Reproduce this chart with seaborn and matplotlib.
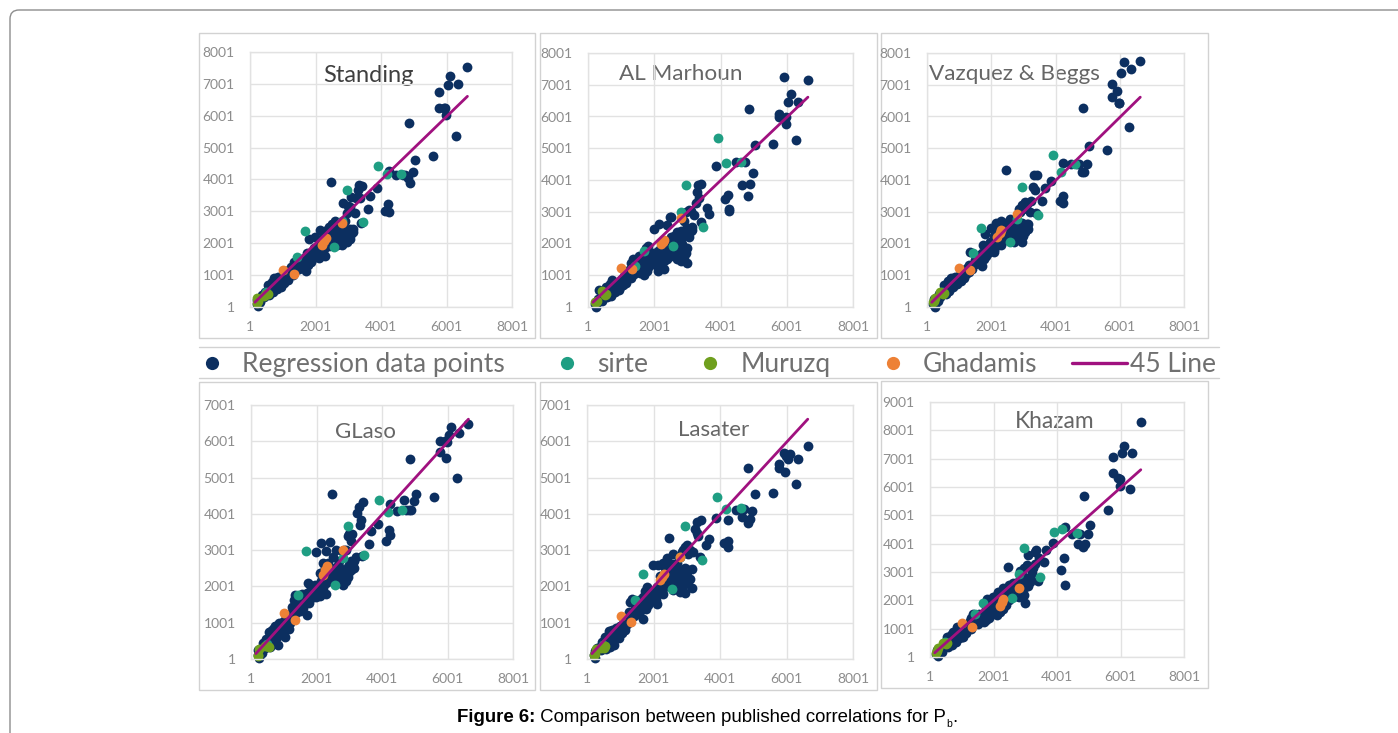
import matplotlib
matplotlib.use('Agg')
import matplotlib.pyplot as plt
from matplotlib.lines import Line2D
from matplotlib.patches import FancyBboxPatch, Rectangle
import seaborn as sns

reg_x = [200,230,250,300,340,380,420,460,500,540,
         580,620,660,700,740,780,820,860,900,950,
         1000,1050,1100,1150,1200,1250,1300,1300,1350,1400,
         1450,1500,1550,1600,1650,1700,1700,1750,1800,1800,
         1850,1900,1950,2000,1980,2050,2100,2100,2150,2200,
         2200,2250,2300,2300,2350,2400,2400,2450,2500,2500,
         2550,2600,2600,2650,2700,2700,2750,2800,2800,2850,
         2900,2900,2950,3000,3000,3050,3100,3100,3150,3200,
         3250,3300,3320,3400,3350,3420,3590,3660,3870,2470,
         4130,4230,4250,4250,4470,4660,4730,4830,4890,4970,
         5040,4850,5600,6290,6640,6120,6050,6350,5775,5775,
         5925,5970,5980,
         600,680,760,840,920,1000,1060,1130,1200,1280,
         1350,1420,1500,1560,1620,1700,1780,1850,1920,2000,
         2080,2150,2250,2300,2350,2450,2500,2550,2650,2700,
         2750,2800,2850,2900,2950,3000,3050,3150,2950,3050]
reg_standing = [110,220,20,170,300,380,310,470,430,700,
                390,560,790,480,900,660,560,940,760,620,
                960,760,1130,840,960,1260,1020,1180,1410,1170,
                1320,1200,1450,1300,1550,1120,1400,1700,1450,2150,
                1620,1500,1850,1600,2200,1750,1950,1530,2420,1680,
                2050,1820,2320,1600,2100,1900,2500,2200,2000,2600,
                2350,2100,2710,1950,2250,2000,2100,2400,1950,3260,
                2250,2700,2050,2350,3160,2150,2300,3440,2450,2950,
                3420,3680,3840,2640,3420,3810,3085,3470,3720,3910,
                3000,3240,2980,4260,4150,4150,4150,4050,3890,4225,
                4620,5770,4725,5355,7520,7240,6965,6985,6735,6245,
                6245,6245,6030,
                640,560,820,700,860,780,1040,990,1120,1120,
                1290,1300,1380,1280,1420,1560,1320,1420,1720,1820,
                1620,1800,2250,1950,2420,1950,2300,2050,2300,2550,
                2280,2150,2300,2050,2420,2200,2450,2350,2950,3150]
reg_marhoun = [80,150,10,250,540,280,200,380,460,620,
               310,540,720,360,860,560,470,700,650,540,
               850,690,990,770,1060,1180,900,1390,1500,1040,
               1250,1130,1620,1200,1500,1010,1320,1850,1250,1930,
               1500,1380,1700,1400,2450,1550,1750,1140,2600,1450,
               1900,1650,2060,1190,1700,1500,2590,1950,1600,2850,
               2100,1740,2250,1950,2250,1500,1850,2400,1455,2000,
               2250,2700,1700,2480,1380,2200,2400,3020,2520,2900,
               3270,3630,3840,2690,3420,3875,3110,2930,4450,2850,
               3415,3530,3040,3100,4575,3840,4575,3510,3875,4220,
               5100,6250,5150,5255,7160,6720,6460,6460,6095,5970,
               7255,5750,5980,
               500,430,640,560,600,650,900,840,920,1000,
               1160,1120,1340,1080,1300,1650,1130,1280,1620,1600,
               1300,1600,1950,1450,1850,1680,2200,1850,2150,2350,
               2000,1750,2300,1590,2450,1850,2350,2430,3000,3050]
reg_vazquez = [90,240,10,280,200,400,330,440,520,700,
               420,610,820,500,910,700,620,960,790,710,
               990,820,1160,900,1040,1240,1110,1320,1730,1200,
               1370,1340,1560,1420,1640,1280,1520,1960,1610,2290,
               1750,1700,2040,1820,2500,1900,2250,1720,2640,1950,
               2400,2120,2700,1960,2360,2200,2650,2420,2280,2100,
               2560,2200,2780,2400,2050,2450,2320,2600,2130,3100,
               2300,3000,2050,2500,3100,2350,2600,3250,2600,3000,
               3330,3770,4160,2950,3700,4160,3340,3740,3980,4315,
               3350,3500,3270,4545,4520,4520,4510,4265,4265,4510,
               5080,6275,4955,5655,7760,7720,7375,7490,7040,6630,
               6800,6430,6430,
               680,600,830,760,900,810,1060,1030,1130,1200,
               1290,1330,1480,1380,1530,1700,1500,1620,1850,1980,
               1800,2050,2500,2180,2580,2350,2500,2150,2550,2680,
               2200,2420,2450,2180,2650,2250,2550,2450,3200,3300]
reg_glaso = [100,260,20,290,180,430,300,560,480,740,
             340,680,840,450,900,620,390,1000,760,720,
             1040,610,1180,830,1000,1440,1170,1640,1770,1290,
             1590,1330,1780,1420,1650,1200,1590,2100,1660,2050,
             1840,1750,2040,1700,2960,1880,2360,1740,3210,1960,
             2650,2120,2990,1800,2350,2150,3220,2520,2200,2800,
             2460,2280,3010,2600,2250,2700,2400,2950,2050,3000,
             2350,3000,2250,2600,3450,2450,2540,3450,2700,2820,
             4020,4200,3700,2850,3835,4340,3165,3530,3715,4560,
             3240,3560,3420,4275,4080,4385,4110,4110,4110,4365,
             4550,5515,4460,4980,6470,6385,6175,6220,6010,5715,
             6010,5530,5990,
             760,560,920,700,1000,800,1120,1030,1240,1300,
             1450,1500,1700,1360,1620,1820,1550,1700,1960,2000,
             1760,2150,2500,2100,2650,2300,2450,2150,2450,2550,
             2200,2250,2450,2150,2550,2400,2700,2500,3400,3250]
reg_lasater = [110,230,30,300,280,340,240,470,400,620,
               290,540,770,330,800,500,400,850,660,590,
               900,720,1080,790,960,1300,1010,1580,1650,1190,
               1390,1250,1640,1320,1580,1110,1450,1880,1560,1980,
               1680,1600,1850,1720,2600,1700,1980,1530,2600,1820,
               2300,2060,2650,1780,2500,2000,2780,2350,2130,2400,
               2620,1900,2900,2230,1950,2500,2100,2800,1850,2950,
               2150,3000,1830,2400,3150,2150,2200,3000,2470,2950,
               3590,3470,3770,2800,3400,3835,3150,3300,3880,3330,
               3190,3260,3100,3835,4110,3910,4140,3760,3855,4090,
               4540,5255,4570,4815,5880,5640,5515,5515,5385,5255,
               5690,5165,5600,
               520,450,720,560,780,680,940,880,1100,1120,
               1300,1320,1480,1260,1480,1700,1380,1500,1780,1850,
               1620,1920,2200,1960,2150,2150,2500,2200,2450,2650,
               2300,2000,2350,2000,2500,2100,2450,1950,3100,2900]
reg_khazam = [90,260,20,210,310,190,380,420,500,700,
              350,590,790,430,900,610,530,1060,680,770,
              950,690,1080,860,1040,1270,980,1360,1520,1190,
              1340,1180,1510,1300,1470,1250,1380,1700,1410,2040,
              1520,1560,1950,1640,2120,1820,2200,1470,2280,1580,
              2050,1760,2420,1680,2180,1850,2380,2250,2000,2550,
              2430,2150,2620,2320,2500,2300,2150,2680,2120,3050,
              2450,2900,2180,2750,1890,2580,2500,3600,2820,2950,
              3150,3300,3715,2700,3775,3500,3360,3775,4035,3185,
              3080,3500,2535,4575,4330,3975,4330,3890,3975,4330,
              4660,5685,5190,5920,8280,7455,7195,7195,7075,6490,
              6335,6040,6300,
              650,500,760,720,860,720,960,960,1130,1150,
              1250,1380,1400,1240,1400,1560,1300,1370,1700,1800,
              1600,1900,2150,1900,2300,2100,2350,2150,2500,2600,
              2350,2280,2500,2300,2650,2480,2750,2650,3150,3250]

sirte_x = [3920,4170,4620,2950,3460,2570,1680,1430,2810,480]
sirte_standing = [4410,4180,4170,3680,2655,1870,2370,1570,2700,460]
sirte_marhoun = [5330,4540,4575,3840,2520,1910,1770,1280,3000,430]
sirte_vazquez = [4785,4260,4490,3770,2900,2060,2480,1700,2760,480]
sirte_glaso = [4390,4060,4110,3680,2870,2030,2990,1770,2780,420]
sirte_lasater = [4470,4130,4170,3680,2740,1930,2340,1630,2810,380]
sirte_khazam = [4425,4520,4365,3845,2810,2090,1920,1530,2925,520]

muruzq_x = [200,230,260,500,540,420]
muruzq_standing = [130,290,180,420,400,350]
muruzq_marhoun = [150,150,200,380,420,500]
muruzq_vazquez = [160,200,300,420,440,460]
muruzq_glaso = [70,100,280,350,320,370]
muruzq_lasater = [100,130,280,300,350,300]
muruzq_khazam = [130,200,310,470,480,500]

ghadamis_x = [1010,1330,2190,2260,2310,2810]
ghadamis_standing = [1170,1025,1955,2060,2165,2635]
ghadamis_marhoun = [1245,1190,1990,2060,2115,2795]
ghadamis_vazquez = [1245,1160,2220,2320,2430,2930]
ghadamis_glaso = [1265,1085,2320,2450,2570,3010]
ghadamis_lasater = [1190,1020,2180,2270,2350,2825]
ghadamis_khazam = [1215,1060,1805,1945,2065,2420]

line_x = [150,6640]
line_y = [150,6610]

x_ticks = [1,2001,4001,6001,8001]

NAVY = '#0c2f60'
SIRTE = '#1f9e83'
MURUZQ = '#6f9f1e'
GHADAMIS = '#ed8136'
LINE = '#a0117f'
GRID = '#e2e2e2'
FRAME = '#d2d2d2'
FONT = 'Lato'
MARK = 50

W, H = 1398, 733

sns.set_theme(style='white')
plt.rcParams['font.family'] = [FONT, 'DejaVu Sans']

fig = plt.figure(figsize=(W / 100, H / 100), dpi=100, facecolor='white')

# Page layer in pixel coordinates, for the frames and the caption
page = fig.add_axes([0, 0, 1, 1], zorder=0)
page.set_xlim(0, W)
page.set_ylim(H, 0)
page.axis('off')
page.add_patch(FancyBboxPatch((10, 10), 1450, 780, boxstyle='round,pad=0,rounding_size=9',
                              fill=False, ec='#8d8d8d', lw=1))

panels = [
    ('Standing', reg_standing, sirte_standing, muruzq_standing, ghadamis_standing, 8001,
     (250, 512, 52, 307), (199, 535, 33, 338), (368, 75), '#3f3f3f', 17),
    ('AL Marhoun', reg_marhoun, sirte_marhoun, muruzq_marhoun, ghadamis_marhoun, 8001,
     (588, 853, 53, 307), (540, 877, 33, 338), (681, 74), '#666666', 16.2),
    ('Vazquez & Beggs', reg_vazquez, sirte_vazquez, muruzq_vazquez, ghadamis_vazquez, 8001,
     (927, 1184, 53, 307), (881, 1208, 33, 338), (1014, 74), '#666666', 16.2),
    ('GLaso', reg_glaso, sirte_glaso, muruzq_glaso, ghadamis_glaso, 7001,
     (251, 513, 405, 659), (199, 535, 382, 690), (365, 432), '#666666', 16),
    ('Lasater', reg_lasater, sirte_lasater, muruzq_lasater, ghadamis_lasater, 7001,
     (587, 853, 405, 659), (540, 877, 382, 690), (714, 430), '#666666', 16),
    ('Khazam', reg_khazam, sirte_khazam, muruzq_khazam, ghadamis_khazam, 9001,
     (930, 1184, 402, 657), (881, 1208, 381, 688), (1055, 422), '#666666', 16.4),
]

for name, reg, sirte, muruzq, ghadamis, top, box, frame, label_at, label_col, label_size in panels:
    page.add_patch(Rectangle((frame[0], frame[2]), frame[1] - frame[0], frame[3] - frame[2],
                             fill=False, ec=FRAME, lw=1))
    ax = fig.add_axes([box[0] / W, 1 - box[3] / H, (box[1] - box[0]) / W, (box[3] - box[2]) / H],
                      zorder=1)
    ax.patch.set_alpha(0)
    sns.scatterplot(x=reg_x, y=reg, color=NAVY, s=MARK, linewidth=0, clip_on=False, ax=ax)
    sns.scatterplot(x=sirte_x, y=sirte, color=SIRTE, s=MARK, linewidth=0, clip_on=False, ax=ax)
    sns.scatterplot(x=ghadamis_x, y=ghadamis, color=GHADAMIS, s=MARK, linewidth=0, clip_on=False, ax=ax)
    sns.scatterplot(x=muruzq_x, y=muruzq, color=MURUZQ, s=MARK, linewidth=0, clip_on=False, ax=ax)
    sns.lineplot(x=line_x, y=line_y, color=LINE, lw=2, ax=ax)
    ax.set_xlim(1, 8001)
    ax.set_ylim(1, top)
    ax.set_xticks(x_ticks)
    ax.set_yticks(list(range(1, top + 1, 1000)))
    ax.grid(True, color=GRID, lw=1)
    ax.set_axisbelow(True)
    ax.tick_params(length=0, labelsize=10, labelcolor='#8c8c8c')
    ax.tick_params(axis='x', pad=10)
    ax.tick_params(axis='y', pad=11)
    for side in ax.spines.values():
        side.set_color(GRID)
        side.set_linewidth(1)
    page.text(label_at[0], label_at[1], name, fontsize=label_size, color=label_col,
              ha='center', va='center', zorder=5)

# Legend band between the two rows
page.plot([199, 1219], [347, 347], color=FRAME, lw=1)
page.plot([199, 1219], [378, 378], color=FRAME, lw=1)
handles = [
    Line2D([], [], ls='', marker='o', ms=9.5, mew=0, color=NAVY, label='Regression data points'),
    Line2D([], [], ls='', marker='o', ms=9.5, mew=0, color=SIRTE, label='sirte'),
    Line2D([], [], ls='', marker='o', ms=9.5, mew=0, color=MURUZQ, label='Muruzq'),
    Line2D([], [], ls='', marker='o', ms=9.5, mew=0, color=GHADAMIS, label='Ghadamis'),
    Line2D([], [], color=LINE, lw=2.4, label='45 Line'),
]
fig.legend(handles=handles, loc='center', bbox_to_anchor=(700 / W, 1 - 364.5 / H), ncol=5,
           frameon=False, fontsize=19, labelcolor='#707070', handlelength=2.1,
           handletextpad=0.1, columnspacing=1.3, borderpad=0)

# Caption, one piece after the other so the subscript sits right
fig.canvas.draw()
renderer = fig.canvas.get_renderer()
pieces = [('Figure 6:', 'bold', 13.4, 718), (' Comparison between published correlations for P', 'normal', 13.4, 718),
          ('b', 'normal', 7.5, 724), ('.', 'normal', 13.4, 718)]
pen = 457
for text, weight, size, y in pieces:
    t = page.text(pen, y, text.replace(' ', '\u00a0'), family='Liberation Sans', fontweight=weight,
                  fontsize=size, color='black', ha='left', va='center')
    pen = t.get_window_extent(renderer).x1

fig.savefig('out.png', dpi=100)
